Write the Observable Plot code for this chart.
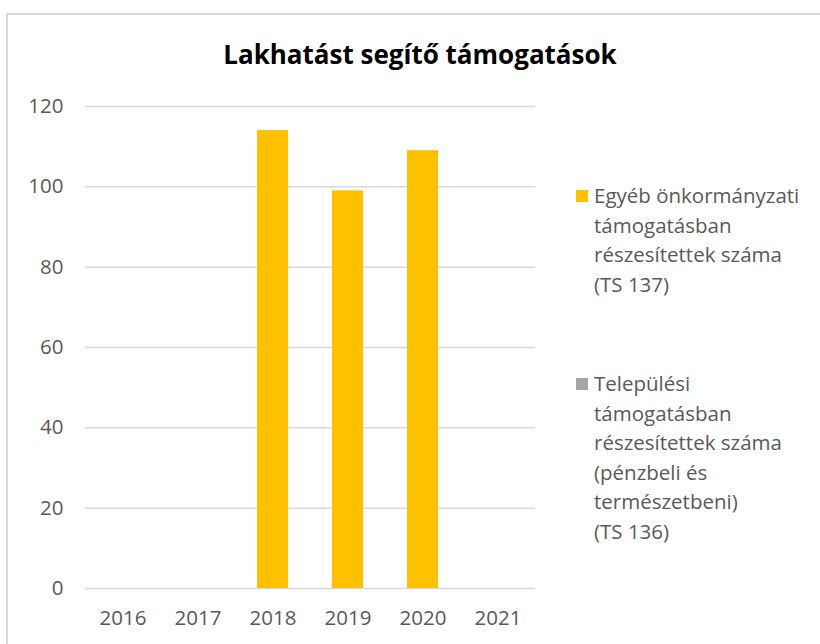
<!DOCTYPE html>
<html>
<head>
<meta charset="utf-8">
<script src="https://cdn.jsdelivr.net/npm/d3@7"></script>
<script src="https://cdn.jsdelivr.net/npm/@observablehq/plot@0.6"></script>
<style>
  html, body { margin: 0; padding: 0; background: #fff; }
  #wrap { position: relative; width: 820px; height: 644px; overflow: hidden; font-family: "Open Sans", sans-serif; }
  #frame { position: absolute; left: 6px; top: 13px; width: 900px; height: 700px; border: 2px solid #d9d9d9; box-sizing: border-box; }
  #title { position: absolute; left: 0; width: 840px; top: 36px; text-align: center; font-size: 26px; font-weight: bold; color: #000; }
  #chart { position: absolute; left: 0; top: 0; }
  .leg { position: absolute; left: 576px; font-size: 20.5px; line-height: 29.5px; color: #595959; }
  .leg .sw { position: absolute; left: 0; top: 9px; width: 12px; height: 12px; }
  .leg .tx { margin-left: 18px; }
</style>
</head>
<body>
<div id="wrap">
  <div id="frame"></div>
  <div id="chart"></div>
  <div id="title"></div>
  <div id="legend"></div>
</div>
<script>
const title = "Lakhatást segítő támogatások";
const years = ["2016", "2017", "2018", "2019", "2020", "2021"];
const egyebValues = [null, null, 114, 99, 109, null];
const telepulesiValues = [null, null, null, null, null, null];
const yTicks = [0, 20, 40, 60, 80, 100, 120];
const seriesNames = [
  ["Egyéb önkormányzati", "támogatásban", "részesítettek száma", "(TS 137)"],
  ["Települési", "támogatásban", "részesítettek száma", "(pénzbeli és", "természetbeni)", "(TS 136)"]
];
const seriesColors = ["#FFC000", "#A5A5A5"];

const rows = [];
years.forEach((y, i) => {
  if (egyebValues[i] != null) rows.push({ year: y, value: egyebValues[i], series: 0 });
  if (telepulesiValues[i] != null) rows.push({ year: y, value: telepulesiValues[i], series: 1 });
});

const plot = Plot.plot({
  width: 820,
  height: 644,
  marginLeft: 85,
  marginRight: 285,
  marginTop: 106,
  marginBottom: 56,
  style: { fontFamily: "Open Sans, sans-serif", fontSize: "20.5px", color: "#595959", background: "transparent" },
  x: { domain: years, paddingInner: 0.587, paddingOuter: 0.2935, label: null, tickSize: 0, tickPadding: 22 },
  y: { domain: [0, 120], ticks: yTicks, label: null, tickSize: 0, tickPadding: 22 },
  marks: [
    Plot.ruleY(yTicks, { stroke: "#d9d9d9", strokeWidth: 1.5 }),
    Plot.barY(rows, { x: "year", y: "value", fill: d => seriesColors[d.series] })
  ]
});
document.getElementById("chart").appendChild(plot);
document.getElementById("title").textContent = title;

const legendTops = [181, 369];
const legend = document.getElementById("legend");
seriesNames.forEach((lines, i) => {
  const d = document.createElement("div");
  d.className = "leg";
  d.style.top = legendTops[i] + "px";
  const sw = document.createElement("div");
  sw.className = "sw";
  sw.style.background = seriesColors[i];
  d.appendChild(sw);
  const tx = document.createElement("div");
  tx.className = "tx";
  lines.forEach(l => { const s = document.createElement("div"); s.textContent = l; tx.appendChild(s); });
  d.appendChild(tx);
  legend.appendChild(d);
});
</script>
</body>
</html>
